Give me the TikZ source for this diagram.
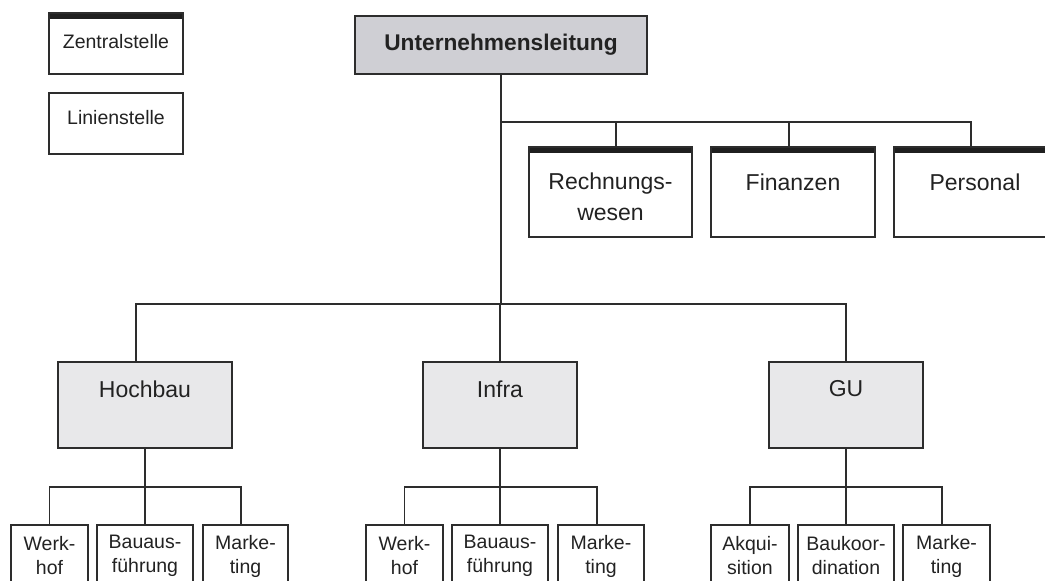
\documentclass[tikz,border=0pt]{standalone}
\usepackage{fontspec}
\setmainfont{Liberation Sans}
\definecolor{ink}{RGB}{34,34,34}
\definecolor{frame}{RGB}{45,45,45}
\definecolor{headfill}{RGB}{207,207,212}
\definecolor{divfill}{RGB}{232,232,234}
\begin{document}
\begin{tikzpicture}[x=1pt,y=-1pt,
  every node/.style={inner sep=0pt, outer sep=0pt, text=ink},
  unit/.style={draw=frame, line width=1.1pt, rectangle},
  central/.style={unit, path picture={
      \fill[black!88] (path picture bounding box.north west)
        rectangle ([yshift=-6pt]path picture bounding box.north east);}},
  conn/.style={draw=frame, line width=1.1pt},
  legtxt/.style={font=\fontsize{19.5}{23}\selectfont},
  bigtxt/.style={font=\fontsize{23}{31}\selectfont, align=center},
  subtxt/.style={font=\fontsize{19.5}{24}\selectfont, align=center},
]
\useasboundingbox (0,0) rectangle (1045,581);
\clip (0,0) rectangle (1045,581);

% legend
\node[central, minimum width=134pt, minimum height=61pt] (zent) at (116,43.5) {};
\node[legtxt] (zentT) at (116,42) {Zentralstelle};
\node[unit, minimum width=134pt, minimum height=61pt] (lin) at (116,123.5) {};
\node[legtxt] (linT) at (116,118) {Linienstelle};

% management
\node[unit, fill=headfill, minimum width=292pt, minimum height=58pt] (ul) at (501,45) {};
\node[font=\fontsize{22.7}{27}\selectfont\bfseries] (ulT) at (501,45) {Unternehmensleitung};

% staff units
\node[central, minimum width=163pt, minimum height=90pt] (rw) at (610.5,192) {};
\node[bigtxt] (rwT) at (610.5,197) {Rechnungs-\\wesen};
\node[central, minimum width=164pt, minimum height=90pt] (fin) at (793,192) {};
\node[bigtxt] (finT) at (793,182) {Finanzen};
\node[central, minimum width=164pt, minimum height=90pt] (pers) at (976,192) {};
\node[bigtxt] (persT) at (975,182) {Personal};

% divisions
\node[unit, fill=divfill, minimum width=174pt, minimum height=86pt] (hoch) at (145,405) {};
\node[bigtxt] (hochT) at (145,389) {Hochbau};
\node[unit, fill=divfill, minimum width=154pt, minimum height=86pt] (infra) at (500,405) {};
\node[bigtxt] (infraT) at (500,389) {Infra};
\node[unit, fill=divfill, minimum width=154pt, minimum height=86pt] (gu) at (846,405) {};
\node[bigtxt] (guT) at (846,389) {GU};

% departments
\node[unit, minimum width=77pt, minimum height=80pt] (hw) at (49.5,565) {};
\node[subtxt] (hwT) at (49.5,556) {Werk-\\hof};
\node[unit, minimum width=96pt, minimum height=80pt] (hb) at (145,565) {};
\node[subtxt] (hbT) at (145,556) {Bauaus-\\führung};
\node[unit, minimum width=85pt, minimum height=80pt] (hm) at (245.5,565) {};
\node[subtxt] (hmT) at (245.5,556) {Marke-\\ting};

\node[unit, minimum width=77pt, minimum height=80pt] (iw) at (404.5,565) {};
\node[subtxt] (iwT) at (404.5,556) {Werk-\\hof};
\node[unit, minimum width=96pt, minimum height=80pt] (ib) at (500,565) {};
\node[subtxt] (ibT) at (500,556) {Bauaus-\\führung};
\node[unit, minimum width=86pt, minimum height=80pt] (im) at (601,565) {};
\node[subtxt] (imT) at (601,556) {Marke-\\ting};

\node[unit, minimum width=78pt, minimum height=80pt] (ga) at (750,565) {};
\node[subtxt] (gaT) at (750,556) {Akqui-\\sition};
\node[unit, minimum width=96pt, minimum height=80pt] (gb) at (846,565) {};
\node[subtxt] (gbT) at (846,556) {Baukoor-\\dination};
\node[unit, minimum width=87pt, minimum height=80pt] (gm) at (946.5,565) {};
\node[subtxt] (gmT) at (946.5,556) {Marke-\\ting};

% connectors: staff line
\coordinate (sbus) at (ul.south |- 0,122);
\coordinate (dbus) at (ul.south |- 0,304);
\draw[conn] (ul.south) -- (dbus);
\draw[conn] (sbus) -| ([xshift=5.5pt]rw.north);
\draw[conn] (sbus) -| ([xshift=-4pt]fin.north);
\draw[conn] (sbus) -| ([xshift=-5pt]pers.north);

% connectors: divisions
\draw[conn] (dbus) -| ([xshift=-9pt]hoch.north);
\draw[conn] (dbus) -| (infra.north);
\draw[conn] (dbus) -| (gu.north);

% connectors: departments
\coordinate (hbus) at (hoch.south |- 0,487);
\draw[conn] (hoch.south) -- (hb.north);
\draw[conn] (hbus) -| (hw.north);
\draw[conn] (hbus) -| ([xshift=-4.5pt]hm.north);

\coordinate (ibus) at (infra.south |- 0,487);
\draw[conn] (infra.south) -- (ib.north);
\draw[conn] (ibus) -| (iw.north);
\draw[conn] (ibus) -| ([xshift=-4pt]im.north);

\coordinate (gbus) at (gu.south |- 0,487);
\draw[conn] (gu.south) -- (gb.north);
\draw[conn] (gbus) -| (ga.north);
\draw[conn] (gbus) -| ([xshift=-4.5pt]gm.north);
\end{tikzpicture}
\end{document}
